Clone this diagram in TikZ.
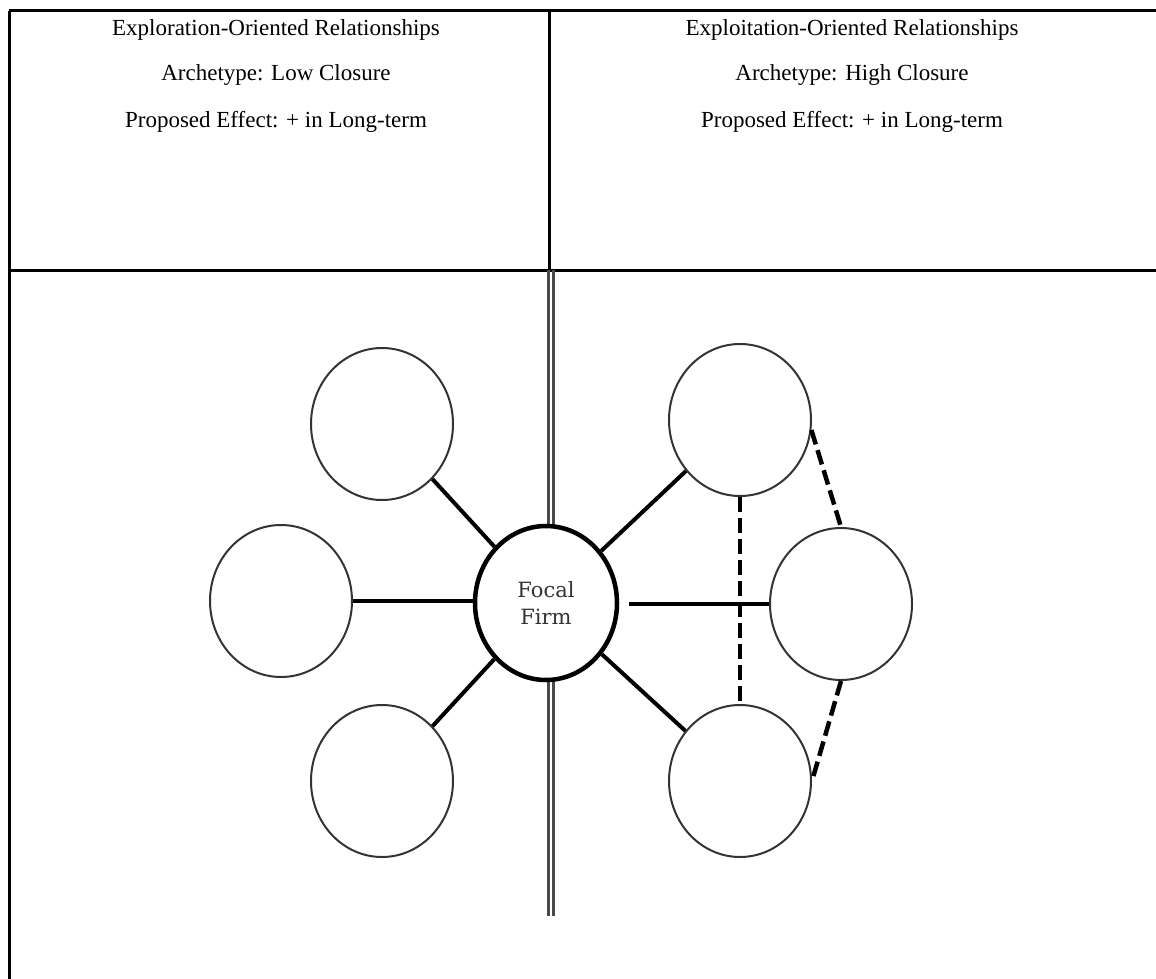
\documentclass[tikz,border=0pt]{standalone}
\usepackage{fontspec}
\setmainfont{Liberation Serif}
\newfontfamily\focalfont{DejaVu Serif}
\usetikzlibrary{shapes.geometric}
\definecolor{rim}{HTML}{333333}
\definecolor{divgray}{HTML}{4A4A4A}
\begin{document}
\begin{tikzpicture}[x=1pt,y=-1pt,
  rule/.style={line width=3pt,black},
  header/.style={font=\fontsize{23}{27}\selectfont,anchor=base,inner sep=0pt},
  partner/.style={ellipse,draw=rim,fill=white,line width=2pt,minimum width=142pt,minimum height=152pt,inner sep=0pt},
  focal/.style={ellipse,draw=black,fill=white,line width=4.5pt,minimum width=142pt,minimum height=154pt,inner sep=0pt,
    font=\focalfont\fontsize{21}{27}\selectfont,text=rim,align=center},
  tie/.style={line width=4pt,black},
  closure/.style={line width=4.5pt,black,dash pattern=on 15pt off 6pt}]
\useasboundingbox (0,0) rectangle (1156,979);
\fill[white] (0,0) rectangle (1156,979);

% table frame
\coordinate (tl) at (9,11);
\coordinate (tr) at (1156,11);
\coordinate (bl) at (9,979);
\coordinate (ml) at (9,270);
\coordinate (mr) at (1156,270);
\coordinate (ct) at (549,11);
\coordinate (cm) at (549,270);
\draw[rule] (tl) -- (tr);
\draw[rule] (tl) -- (bl);
\draw[rule] (ml) -- (mr);
\draw[rule] (ct) -- (cm);

% header texts
\node[header] (h1) at (276,36) {Exploration-Oriented Relationships};
\node[header] (h2) at (276,81) {Archetype: Low Closure};
\node[header] (h3) at (276,128) {Proposed Effect: + in Long-term};
\node[header] (h4) at (852,36) {Exploitation-Oriented Relationships};
\node[header] (h5) at (852,81) {Archetype: High Closure};
\node[header] (h6) at (852,128) {Proposed Effect: + in Long-term};

% double divider between the two network halves
\coordinate (da1) at (548.5,270);
\coordinate (da2) at (548.5,916);
\coordinate (db1) at (553.5,270);
\coordinate (db2) at (553.5,916);
\draw[divgray,line width=2.6pt] (da1) -- (da2);
\draw[divgray,line width=2.6pt] (db1) -- (db2);

% focal firm and partners
\node[focal] (F) at (546,603) {Focal\\Firm};
\node[partner] (L1) at (382,424) {};
\node[partner] (L2) at (281,601) {};
\node[partner] (L3) at (382,781) {};
\node[partner] (R1) at (740,420) {};
\node[partner] (R2) at (841,604) {};
\node[partner] (R3) at (740,781) {};

% direct ties
\draw[tie] (L1) -- (F);
\draw[tie] (L2.east) -- (L2.east -| F.west);
\draw[tie] (L3) -- (F);
\draw[tie] (F) -- (R1);
\draw[tie,shorten <=10pt] (F.east |- R2.west) -- (R2.west);
\draw[tie] (F) -- (R3);

% ties among partners (closure)
\draw[closure] (R1.south) -- (R3.north);
\draw[closure] (R1.-8) -- (R2.north);
\draw[closure] (R2.south) -- (R3.east);
\end{tikzpicture}
\end{document}
